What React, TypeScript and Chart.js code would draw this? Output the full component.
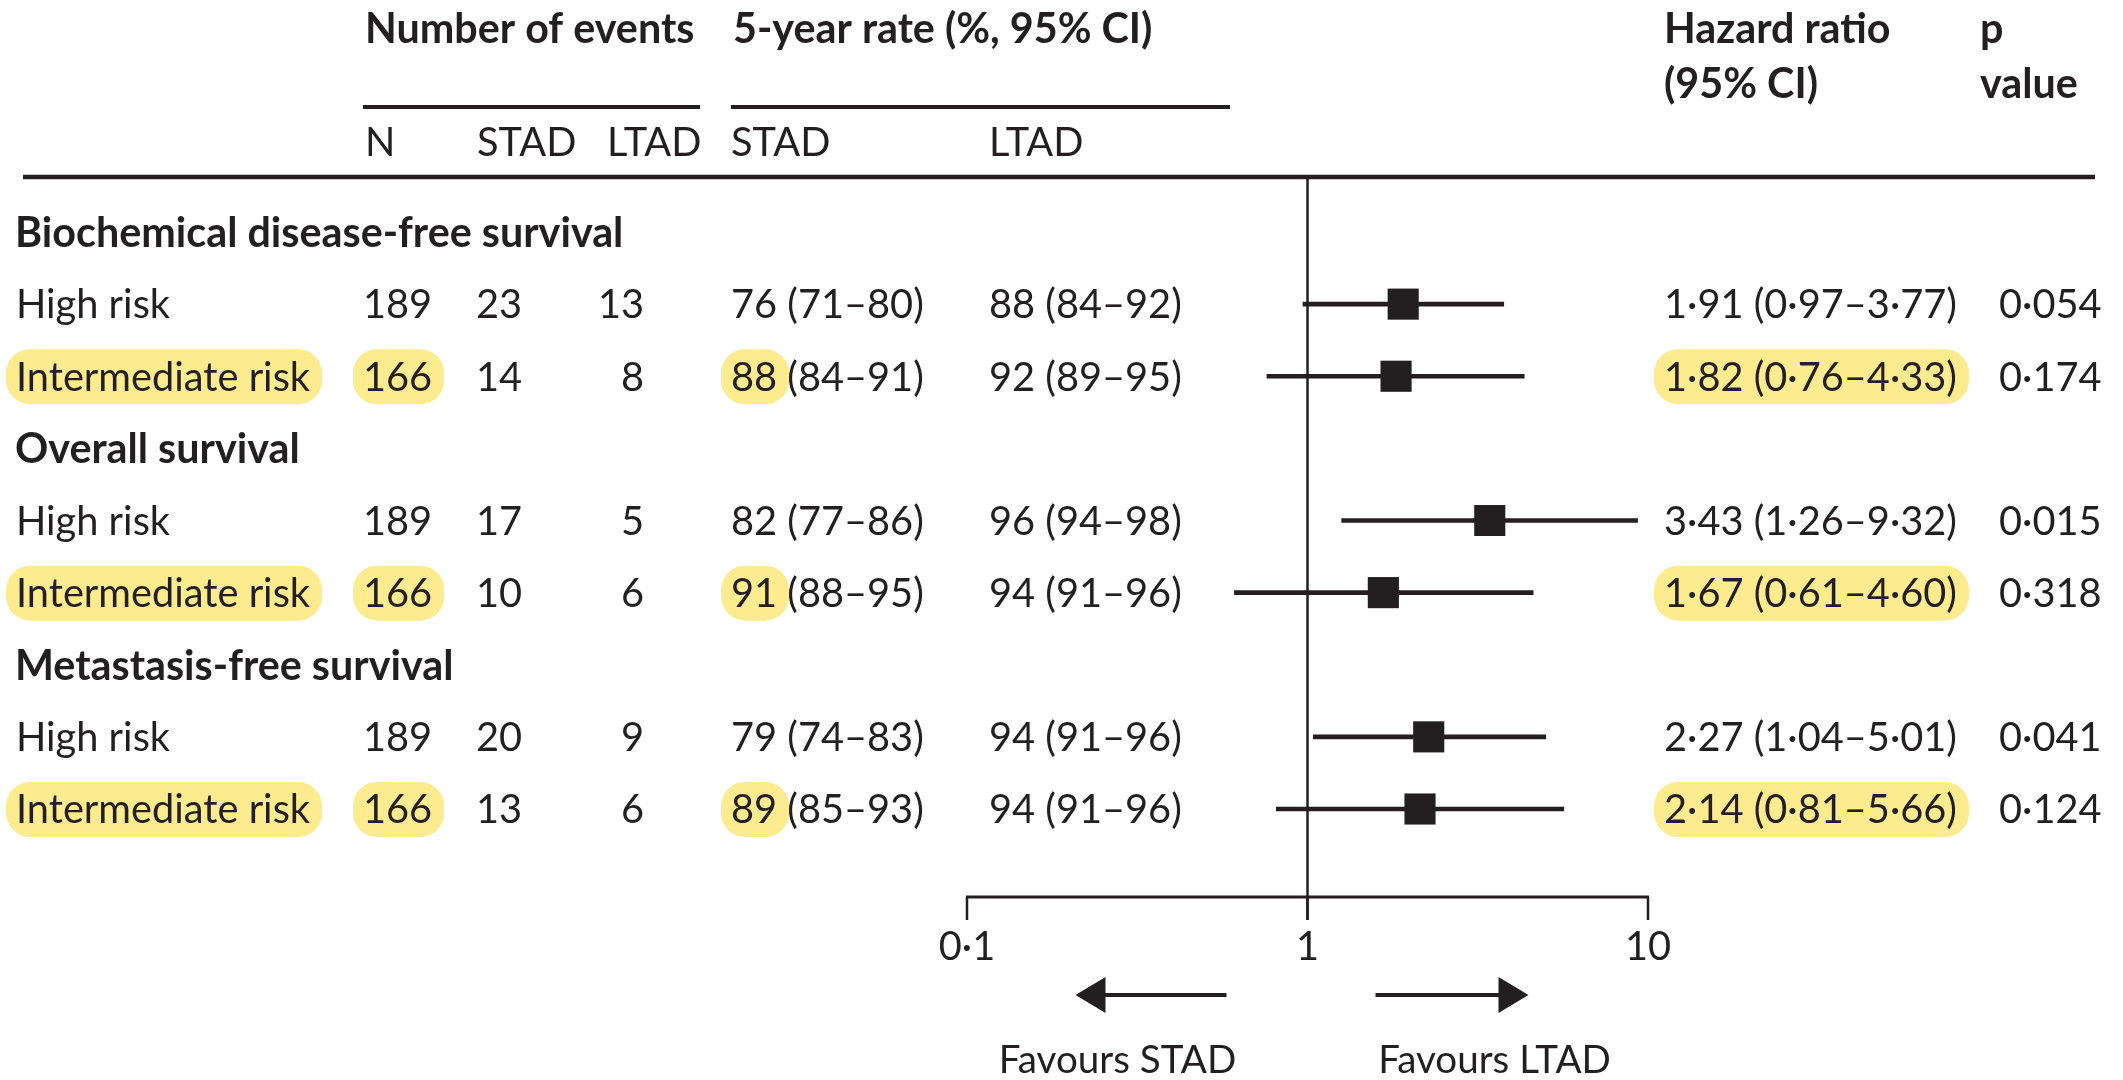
import React, { useEffect, useRef } from 'react';
import { Chart, registerables } from 'chart.js';

Chart.register(...registerables);

// ---------- data ----------
const sectionTitles = ['Biochemical disease-free survival', 'Overall survival', 'Metastasis-free survival'];
const rowLabels = ['High risk', 'Intermediate risk', 'High risk', 'Intermediate risk', 'High risk', 'Intermediate risk'];
const rowSection = [0, 0, 1, 1, 2, 2];
const nPatients = [189, 166, 189, 166, 189, 166];
const eventsSTAD = [23, 14, 17, 10, 20, 13];
const eventsLTAD = [13, 8, 5, 6, 9, 6];
const rateSTAD = [76, 88, 82, 91, 79, 89];
const rateSTADLow = [71, 84, 77, 88, 74, 85];
const rateSTADHigh = [80, 91, 86, 95, 83, 93];
const rateLTAD = [88, 92, 96, 94, 94, 94];
const rateLTADLow = [84, 89, 94, 91, 91, 91];
const rateLTADHigh = [92, 95, 98, 96, 96, 96];
const hazardRatio = [1.91, 1.82, 3.43, 1.67, 2.27, 2.14];
const hrLower = [0.97, 0.76, 1.26, 0.61, 1.04, 0.81];
const hrUpper = [3.77, 4.33, 9.32, 4.6, 5.01, 5.66];
const pValues = [0.054, 0.174, 0.015, 0.318, 0.041, 0.124];
const highlighted = [false, true, false, true, false, true];
const xTicks = [0.1, 1, 10];
const xTickLabels = ['0·1', '1', '10'];
const headerTop = ['Number of events', '5-year rate (%, 95% CI)', 'Hazard ratio', 'p'];
const headerSecond = ['(95% CI)', 'value'];
const subHeaders = ['N', 'STAD', 'LTAD', 'STAD', 'LTAD'];
const favourLabels = ['Favours STAD', 'Favours LTAD'];

// ---------- styling ----------
const INK = '#231f20';
const HIGHLIGHT = '#fdeb8f';
const FONT = 'Lato';

const dot = (v: number, d: number) => v.toFixed(d).replace('.', '·');
const rowIndex = rowSection.map((s, i) => s * 3 + (i % 2) + 1);

export default function App() {
  const ref = useRef<HTMLCanvasElement | null>(null);

  useEffect(() => {
    document.body.style.margin = '0';
    document.documentElement.style.overflow = 'hidden';
    const canvas = ref.current!;
    let sizes: { reg: number; bold: number } | null = null;

    const tablePlugin = {
      id: 'forestTable',
      beforeDatasetsDraw(chart: any) {
        const ctx: CanvasRenderingContext2D = chart.ctx;
        if (!sizes) {
          ctx.font = `400 100px ${FONT}`;
          const wr = ctx.measureText('Intermediate risk').width + ctx.measureText('76 (71–80)').width;
          ctx.font = `700 100px ${FONT}`;
          const wb = ctx.measureText('Number of events').width + ctx.measureText('Biochemical disease-free survival').width;
          sizes = { reg: (100 * (298 + 189)) / wr, bold: (100 * (334 + 604)) / wb };
        }
        const { reg, bold } = sizes;
        const xs = chart.scales.x;
        const ys = chart.scales.y;
        const x1 = xs.getPixelForValue(1);

        ctx.save();
        // highlights
        const pill = (left: number, w: number, cy: number) => {
          ctx.fillStyle = HIGHLIGHT;
          ctx.beginPath();
          (ctx as any).roundRect(left - 10, cy - 27, w + 22, 55, 24);
          ctx.fill();
        };
        ctx.font = `400 ${reg}px ${FONT}`;
        rowLabels.forEach((lab, i) => {
          if (!highlighted[i]) return;
          const cy = ys.getPixelForValue(rowIndex[i]);
          pill(16, ctx.measureText(lab).width, cy);
          pill(363, ctx.measureText(String(nPatients[i])).width, cy);
          pill(731, ctx.measureText(String(rateSTAD[i])).width, cy);
          pill(1664, ctx.measureText(`${dot(hazardRatio[i], 2)} (${dot(hrLower[i], 2)}–${dot(hrUpper[i], 2)})`).width, cy);
        });

        // rules
        ctx.strokeStyle = INK;
        ctx.lineCap = 'butt';
        const line = (xa: number, ya: number, xb: number, yb: number, w: number) => {
          ctx.lineWidth = w;
          ctx.beginPath();
          ctx.moveTo(xa, ya);
          ctx.lineTo(xb, yb);
          ctx.stroke();
        };
        line(363, 107, 700, 107, 4);
        line(731, 107, 1230, 107, 4);
        line(23, 177, 2095, 177, 4.5);
        // reference line at HR = 1
        line(x1, 177, x1, 920, 2.5);
        // axis
        const x01 = xs.getPixelForValue(xTicks[0]);
        const x10 = xs.getPixelForValue(xTicks[xTicks.length - 1]);
        line(x01 - 1, 897, x10 + 1, 897, 3);
        xTicks.forEach((t) => {
          const px = xs.getPixelForValue(t);
          line(px, 897, px, 920, 2.5);
        });

        // arrows
        const arrow = (from: number, to: number, y: number) => {
          const dir = Math.sign(to - from);
          line(from, y, to - dir * 28, y, 4);
          ctx.fillStyle = INK;
          ctx.beginPath();
          ctx.moveTo(to, y);
          ctx.lineTo(to - dir * 30, y - 18);
          ctx.lineTo(to - dir * 30, y + 18);
          ctx.closePath();
          ctx.fill();
        };
        arrow(x1 - 81, x1 - 232, 995);
        arrow(x1 + 68, x1 + 221, 995);

        // text
        ctx.fillStyle = INK;
        ctx.textBaseline = 'alphabetic';
        const txt = (s: string, x: number, y: number, weight: number, size: number, align: CanvasTextAlign = 'left') => {
          ctx.font = `${weight} ${size}px ${FONT}`;
          ctx.textAlign = align;
          ctx.fillText(s, x, y);
        };
        txt(headerTop[0], 365, 43, 700, bold);
        txt(headerTop[1], 733, 43, 700, bold);
        txt(headerTop[2], 1664, 43, 700, bold);
        txt(headerTop[3], 1980, 43, 700, bold);
        txt(headerSecond[0], 1664, 98, 700, bold);
        txt(headerSecond[1], 1980, 98, 700, bold);
        const subX = [365, 477, 607, 731, 989];
        subHeaders.forEach((s, i) => txt(s, subX[i], 156, 400, reg));

        sectionTitles.forEach((s, k) => {
          const cy = ys.getPixelForValue(k * 3);
          txt(s, 15, cy + 0.36 * bold, 700, bold);
        });
        rowLabels.forEach((lab, i) => {
          const cy = ys.getPixelForValue(rowIndex[i]);
          const by = cy + 0.36 * reg;
          txt(lab, 16, by, 400, reg);
          txt(String(nPatients[i]), 363, by, 400, reg);
          txt(String(eventsSTAD[i]), 476, by, 400, reg);
          txt(String(eventsLTAD[i]), 644, by, 400, reg, 'right');
          txt(`${rateSTAD[i]} (${rateSTADLow[i]}–${rateSTADHigh[i]})`, 731, by, 400, reg);
          txt(`${rateLTAD[i]} (${rateLTADLow[i]}–${rateLTADHigh[i]})`, 989, by, 400, reg);
          txt(`${dot(hazardRatio[i], 2)} (${dot(hrLower[i], 2)}–${dot(hrUpper[i], 2)})`, 1664, by, 400, reg);
          txt(dot(pValues[i], 3), 1999, by, 400, reg);
        });

        xTicks.forEach((t, i) => txt(xTickLabels[i], xs.getPixelForValue(t), 960, 400, reg, 'center'));
        txt(favourLabels[0], x1 - 190, 1073, 400, reg * 0.97, 'center');
        txt(favourLabels[1], x1 + 187, 1073, 400, reg * 0.97, 'center');
        ctx.restore();
      },
    };

    const chart = new Chart(canvas, {
      type: 'bar',
      data: {
        datasets: [
          {
            type: 'bar',
            indexAxis: 'y',
            data: rowIndex.map((r, i) => ({ y: r, x: [hrLower[i], hrUpper[i]] })) as any,
            backgroundColor: INK,
            borderWidth: 0,
            barThickness: 4,
            clip: false,
          } as any,
          {
            type: 'scatter',
            data: rowIndex.map((r, i) => ({ x: hazardRatio[i], y: r })),
            pointStyle: 'rect',
            pointRadius: 22,
            pointBackgroundColor: INK,
            pointBorderWidth: 0,
            backgroundColor: INK,
            borderWidth: 0,
            clip: false,
          } as any,
        ],
      },
      options: {
        animation: false,
        responsive: false,
        devicePixelRatio: 1,
        events: [],
        layout: { padding: { left: 967, right: 2123 - 1648, top: 232, bottom: 1080 - 809 } },
        scales: {
          x: { type: 'logarithmic', min: 0.1, max: 10, display: false, offset: false, grid: { offset: false } },
          y: { type: 'linear', min: 0, max: 8, reverse: true, display: false, offset: false, grid: { offset: false } },
        },
        plugins: { legend: { display: false }, tooltip: { enabled: false } },
      } as any,
      plugins: [tablePlugin],
    });
    return () => chart.destroy();
  }, []);

  return <canvas ref={ref} width={2123} height={1080} style={{ display: 'block', background: '#ffffff' }} />;
}
